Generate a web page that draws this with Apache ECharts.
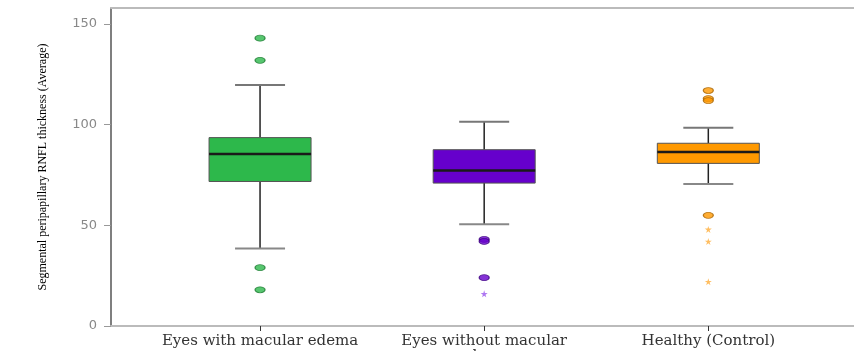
<!DOCTYPE html>
<html>
<head>
<meta charset="utf-8">
<script src="https://cdn.jsdelivr.net/npm/echarts@6/dist/echarts.min.js"></script>
<style>
  html, body { margin: 0; padding: 0; background: #fff; }
  #chart { width: 854px; height: 351px; }
</style>
</head>
<body>
<div id="chart"></div>
<script>
// groups
var categories = ['Eyes with macular edema', 'Eyes without macular\nedema', 'Healthy (Control)'];
// box stats
var lowWhisker = [38.5, 50.5, 70.5];
var lowerQuartile = [71.8, 71, 80.8];
var medians = [85.4, 77.3, 86.4];
var upperQuartile = [93.6, 87.6, 90.8];
var highWhisker = [119.8, 101.5, 98.5];
// outliers (circles) and extremes (stars)
var outlierCircles = [[143, 132, 29, 18], [43, 42, 24], [117, 113, 112, 55]];
var outlierStars = [[], [16], [48, 42, 22]];
var yTicks = [0, 50, 100, 150];

var fillColors = ['#2db84b', '#6600cc', '#ff9900'];
var edgeColors = ['#1d7a32', '#3d0080', '#a86400'];
var starColors = ['#5fd27a', '#9a55ee', '#ffae3a'];

var starPath = 'path://M50,0 L61,35 L98,35 L68,57 L79,91 L50,70 L21,91 L32,57 L2,35 L39,35 Z';

var boxData = categories.map(function (c, i) {
    return [i + 1, lowWhisker[i], lowerQuartile[i], medians[i], upperQuartile[i], highWhisker[i]];
});

var circleData = [];
var starData = [];
categories.forEach(function (c, i) {
    outlierCircles[i].forEach(function (v) {
        circleData.push({ value: [i + 1, v], itemStyle: { color: fillColors[i], borderColor: edgeColors[i] } });
    });
    outlierStars[i].forEach(function (v) {
        starData.push({ value: [i + 1, v], itemStyle: { color: starColors[i] } });
    });
});

var myChart = echarts.init(document.getElementById('chart'));
var option = {
    animation: false,
    grid: { left: 111, right: 0, top: 8, bottom: 25, outerBoundsMode: 'none', containLabel: false },
    xAxis: [{
        type: 'value',
        min: 0.335,
        max: 3.65,
        axisLine: { lineStyle: { color: '#bbbbbb', width: 2 } },
        splitLine: { show: false },
        axisTick: { customValues: [1, 2, 3], length: 5, lineStyle: { color: '#333' } },
        axisLabel: {
            customValues: [1, 2, 3],
            formatter: function (v) { return categories[Math.round(v) - 1]; },
            fontFamily: 'DejaVu Serif',
            fontSize: 15,
            color: '#333',
            margin: 8,
            lineHeight: 15
        }
    }, {
        type: 'value',
        position: 'top',
        min: 0.335,
        max: 3.65,
        axisLine: { show: true, lineStyle: { color: '#bbbbbb', width: 2 } },
        axisTick: { show: false },
        axisLabel: { show: false },
        splitLine: { show: false }
    }],
    yAxis: {
        type: 'value',
        min: 0,
        max: 158,
        name: 'Segmental peripapillary RNFL thickness (Average)',
        nameLocation: 'middle',
        nameRotate: 90,
        nameGap: 62,
        nameTextStyle: { fontFamily: 'Liberation Serif', fontSize: 12, color: '#000' },
        axisLine: { show: true, lineStyle: { color: '#555', width: 1.5 } },
        axisTick: { show: true, customValues: yTicks, length: 7, lineStyle: { color: '#999' } },
        axisLabel: {
            customValues: yTicks,
            fontFamily: 'DejaVu Sans',
            fontSize: 13,
            color: '#888',
            margin: 14
        },
        splitLine: { show: false }
    },
    series: [{
        type: 'custom',
        name: 'box',
        data: boxData,
        encode: { x: 0, y: [1, 2, 3, 4, 5] },
        renderItem: function (params, api) {
            var x = api.value(0);
            var lo = api.coord([x, api.value(1)]);
            var q1 = api.coord([x, api.value(2)]);
            var md = api.coord([x, api.value(3)]);
            var q3 = api.coord([x, api.value(4)]);
            var hi = api.coord([x, api.value(5)]);
            var cx = lo[0];
            var i = params.dataIndex;
            var half = 51;
            var cap = 25;
            return {
                type: 'group',
                children: [
                    { type: 'line', shape: { x1: cx, y1: hi[1], x2: cx, y2: q3[1] }, style: { stroke: '#222', lineWidth: 1.5 } },
                    { type: 'line', shape: { x1: cx, y1: q1[1], x2: cx, y2: lo[1] }, style: { stroke: '#222', lineWidth: 1.5 } },
                    { type: 'line', shape: { x1: cx - cap, y1: hi[1], x2: cx + cap, y2: hi[1] }, style: { stroke: '#777', lineWidth: 2 } },
                    { type: 'line', shape: { x1: cx - cap, y1: lo[1], x2: cx + cap, y2: lo[1] }, style: { stroke: '#888', lineWidth: 2 } },
                    { type: 'rect', shape: { x: cx - half, y: q3[1], width: half * 2, height: q1[1] - q3[1] }, style: { fill: fillColors[i], stroke: '#555', lineWidth: 1 } },
                    { type: 'line', shape: { x1: cx - half, y1: md[1], x2: cx + half, y2: md[1] }, style: { stroke: '#1a1a1a', lineWidth: 2.5 } }
                ]
            };
        },
        z: 2
    }, {
        type: 'scatter',
        name: 'outliers',
        data: circleData,
        symbol: 'circle',
        symbolSize: [10, 6],
        itemStyle: { borderWidth: 1 },
        z: 3
    }, {
        type: 'scatter',
        name: 'extremes',
        data: starData,
        symbol: starPath,
        symbolSize: 7,
        z: 3
    }]
};
myChart.setOption(option);
</script>
</body>
</html>
